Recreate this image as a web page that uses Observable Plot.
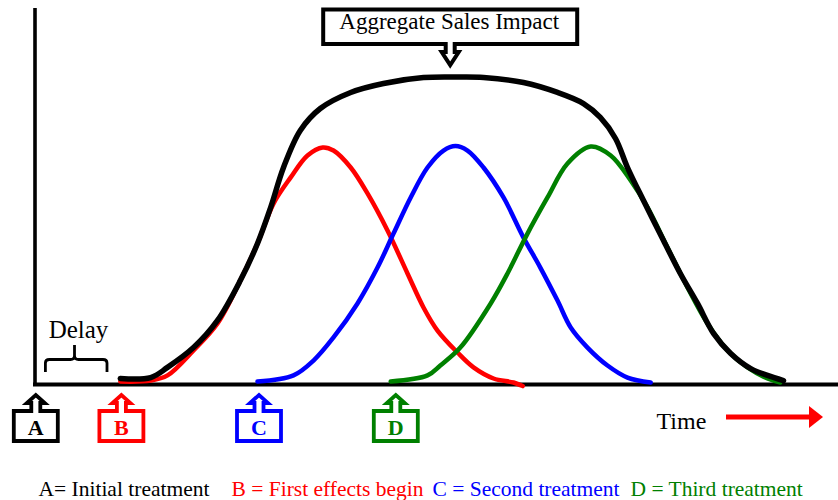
<!DOCTYPE html>
<html>
<head>
<meta charset="utf-8">
<script src="https://cdn.jsdelivr.net/npm/d3@7"></script>
<script src="https://cdn.jsdelivr.net/npm/@observablehq/plot@0.6"></script>
<style>
  html, body { margin: 0; padding: 0; background: #fff; }
  svg { display: block; }
</style>
</head>
<body>
<div id="chart"></div>
<script>
// ---------- DATA (time units, impact units) ----------
const firstEffects = [ // red, from treatment A (effects begin at B)
  [10.6, 0.4], [14.4, 0.8], [16.5, 3.0], [19.75, 13.6], [22.75, 25], [25.6, 43.2],
  [27.75, 58.9], [29.75, 75.8], [31.9, 86.9], [34, 96.2], [35.9, 99.6], [37.25, 98.3],
  [39.4, 91.1], [41.5, 80.1], [44, 64.4], [46.5, 46.2], [48.5, 31.8], [50.25, 22],
  [52.75, 12.7], [54.75, 6.4], [57.25, 1.7], [59.75, 0], [60.9, -1.5]
];
const secondEffects = [ // blue, from treatment C
  [27.75, 0.4], [32.25, 3.0], [34.75, 9.3], [37.25, 19.1], [40.25, 33.5], [42.75, 48.7],
  [44.75, 63.1], [46.9, 78.4], [49, 91.1], [51, 98.3], [52.5, 100.2], [54, 98.3],
  [56, 91.1], [58.5, 78.4], [61, 61.4], [63.1, 48.7], [65.25, 34.7], [66.9, 23.3],
  [69, 14.8], [71.5, 7.2], [74, 2.1], [76.9, 0]
];
const thirdEffects = [ // green, from treatment D
  [44.4, 0.4], [49, 3.0], [50.6, 7.2], [53.1, 14.8], [56.9, 33.5], [59, 46.2],
  [61.5, 63.1], [64, 78.4], [66.5, 92.8], [69.4, 100], [71.9, 96.2], [74.4, 85.6],
  [76.5, 74.2], [79, 57.2], [81.5, 40.3], [84, 25], [86.5, 13.6], [89, 6.4],
  [91.5, 1.7], [93.1, 0]
];
const aggregate = [ // black, aggregate sales impact
  [10.6, 1.7], [14.4, 2.1], [16.5, 6.4], [19.75, 14.8], [22.75, 26.3], [25.6, 43.2],
  [27.75, 58.9], [29.4, 74.2], [31, 91.1], [33.1, 106.8], [35.6, 116.1], [39.4, 122.9],
  [43.5, 126.7], [48.5, 129.2], [53.1, 129.4], [56, 129.2], [61, 127.1], [65.25, 122.9],
  [68.5, 118.2], [70.6, 112.3], [72.5, 103.4], [74, 91.1], [76, 77.1], [78.5, 60.2],
  [80.6, 46.2], [82.75, 33.5], [84.75, 20.8], [86.9, 12.3], [89.4, 5.9], [91.5, 3.0],
  [93.5, 0.8]
];
const treatmentLetters = ["A", "B", "C", "D"];
const treatmentTimes = [0.1, 10.8, 28.0, 45.1];
const legendLabels = ["A= Initial treatment", "B = First effects begin", "C = Second treatment", "D = Third treatment"];
const delayRange = [1.3, 9.0];
const peakTime = 51.9;
const calloutText = "Aggregate Sales Impact";
const axisLabel = "Time";
const delayLabel = "Delay";

// ---------- STYLE ----------
const colors = ["#000000", "#ff0000", "#0000ff", "#008000"];
const serif = "'Liberation Serif', 'Times New Roman', serif";
const X0 = 35, PX_PER_T = 8, Y0 = 382, PX_PER_V = 2.36;
const tx = px => (px - X0) / PX_PER_T;   // pixel -> time (for annotation placement)
const vy = py => (Y0 - py) / PX_PER_V;   // pixel -> impact

function annotations(index, scales) {
  const g = d3.create("svg:g");
  const x = scales.x;
  // Treatment callout boxes
  treatmentLetters.forEach((L, i) => {
    const cx = x(treatmentTimes[i]);
    const top = 411, bot = 441, hw = 22;
    const d = `M${cx-hw},${top} L${cx-4.5},${top} L${cx-4.5},${403} L${cx-9},${403} L${cx},${395} ` +
              `L${cx+9},${403} L${cx+4.5},${403} L${cx+4.5},${top} L${cx+hw},${top} L${cx+hw},${bot} L${cx-hw},${bot} Z`;
    g.append("path").attr("d", d).attr("fill", "#fff").attr("stroke", colors[i])
      .attr("stroke-width", 3.8).attr("stroke-linejoin", "miter");
    g.append("text").attr("x", cx).attr("y", 434.5).attr("text-anchor", "middle")
      .attr("font-family", serif).attr("font-weight", "bold").attr("font-size", 22)
      .attr("fill", colors[i]).text(L);
  });
  // Aggregate callout
  {
    const cx = x(peakTime), hw = 127, top = 9.5, bot = 44;
    const d = `M${cx-hw},${top} L${cx+hw},${top} L${cx+hw},${bot} L${cx+4.5},${bot} L${cx+4.5},52 L${cx+8.5},52 ` +
              `L${cx},65 L${cx-8.5},52 L${cx-4.5},52 L${cx-4.5},${bot} L${cx-hw},${bot} Z`;
    g.append("path").attr("d", d).attr("fill", "#fff").attr("stroke", "#000")
      .attr("stroke-width", 4).attr("stroke-linejoin", "miter");
    g.append("text").attr("x", cx - 1).attr("y", 29).attr("text-anchor", "middle")
      .attr("font-family", serif).attr("font-size", 23).attr("fill", "#000").text(calloutText);
  }
  // Delay bracket
  {
    const x1 = x(delayRange[0]), x2 = x(delayRange[1]), cx = 74.5;
    const d = `M${x1},372 L${x1},363 Q${x1},359.5 ${x1+4},359.5 L${cx-4},359.5 Q${cx},359.5 ${cx},355.5 L${cx},345 ` +
              `M${cx},355.5 Q${cx},359.5 ${cx+4},359.5 L${x2-4},359.5 Q${x2},359.5 ${x2},363 L${x2},372`;
    g.append("path").attr("d", d).attr("fill", "none").attr("stroke", "#000").attr("stroke-width", 2.8);
  }
  // Time arrow
  g.append("line").attr("x1", 726).attr("x2", 812).attr("y1", 417).attr("y2", 417)
    .attr("stroke", "#ff0000").attr("stroke-width", 5);
  g.append("path").attr("d", "M809,406 L823,417 L809,428 Z").attr("fill", "#ff0000");
  return g.node();
}

const legendX = [38, 231, 432, 630];

const chart = Plot.plot({
  width: 838,
  height: 500,
  margin: 0,
  x: {domain: [0, 100], range: [X0, X0 + 100 * PX_PER_T], axis: null},
  y: {domain: [0, 100], range: [Y0, Y0 - 100 * PX_PER_V], axis: null},
  style: {fontFamily: serif, background: "#fff", overflow: "visible"},
  marks: [
    Plot.ruleX([0], {y1: -1.7, y2: vy(8), stroke: "#000", strokeWidth: 3.6, dx: -0.5}),
    Plot.ruleY([0], {x1: tx(33), x2: tx(840), stroke: "#000", strokeWidth: 4, dy: 2}),
    Plot.line(firstEffects, {x: d => d[0], y: d => d[1], stroke: colors[1], strokeWidth: 4.5, curve: "catmull-rom"}),
    Plot.line(secondEffects, {x: d => d[0], y: d => d[1], stroke: colors[2], strokeWidth: 4.5, curve: "catmull-rom"}),
    Plot.line(thirdEffects, {x: d => d[0], y: d => d[1], stroke: colors[3], strokeWidth: 4.5, curve: "catmull-rom"}),
    Plot.line(aggregate, {x: d => d[0], y: d => d[1], stroke: "#000", strokeWidth: 5.5, curve: "catmull-rom"}),
    annotations,
    Plot.text([delayLabel], {x: tx(78), y: vy(337), text: d => d, fontSize: 25, fontFamily: serif, lineAnchor: "bottom", fill: "#000"}),
    Plot.text([axisLabel], {x: tx(656), y: vy(428), text: d => d, fontSize: 24, fontFamily: serif, lineAnchor: "bottom", textAnchor: "start", fill: "#000"}),
    Plot.text(legendLabels, {
      x: (d, i) => tx(legendX[i]), y: vy(495), text: d => d, fontSize: 21.5, fontFamily: serif,
      lineAnchor: "bottom", textAnchor: "start", fill: (d, i) => colors[i]
    })
  ]
});
document.getElementById("chart").appendChild(chart);
</script>
</body>
</html>
